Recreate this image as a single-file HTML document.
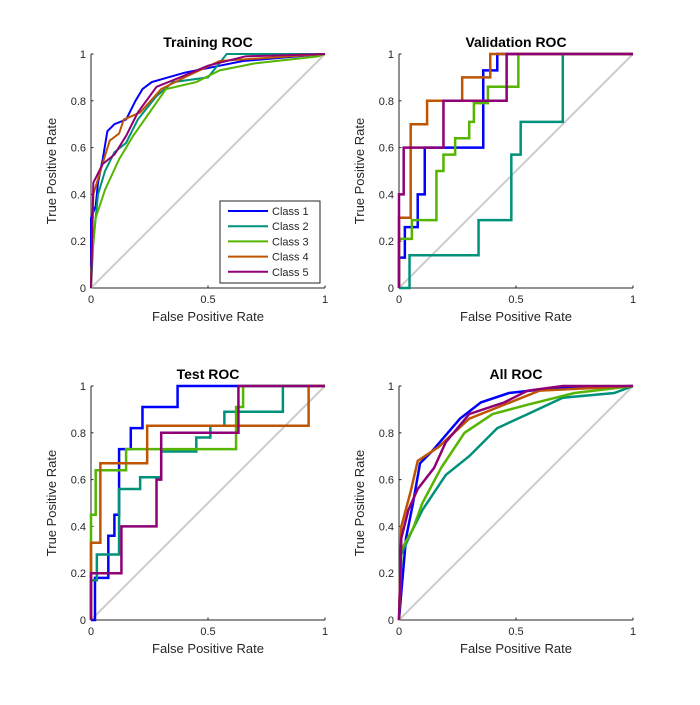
<!DOCTYPE html>
<html><head><meta charset="utf-8"><style>
body{margin:0;background:#fff;}
svg text{font-family:"Liberation Sans",sans-serif;fill:#262626;}
</style></head><body>
<svg id="c" width="700" height="700"></svg>
<script>
const classNames=["Class 1","Class 2","Class 3","Class 4","Class 5"];
const colors=["#0000ff","#00917a","#55b500","#bf5500","#8f0077"];
const xTicks=[0,0.5,1];
const xTickLabels=["0","0.5","1"];
const yTicks=[0,0.2,0.4,0.6,0.8,1];
const yTickLabels=["0","0.2","0.4","0.6","0.8","1"];
// Training
const trainFpr=[[0,0.02,0.03,0.05,0.07,0.1,0.15,0.19,0.22,0.26,0.4,0.55,0.65,1],[0.01,0.03,0.06,0.1,0.15,0.2,0.28,0.35,0.5,0.58,1],[0,0.02,0.06,0.12,0.18,0.25,0.32,0.45,0.55,0.7,0.97,1],[0.01,0.04,0.08,0.12,0.14,0.21,0.3,0.4,0.55,1],[0.01,0.05,0.1,0.15,0.2,0.28,0.38,0.5,0.66,1]];
const trainTpr=[[0.3,0.35,0.45,0.55,0.67,0.7,0.72,0.8,0.85,0.88,0.92,0.95,0.97,1],[0.2,0.4,0.5,0.58,0.62,0.72,0.82,0.88,0.9,1,1],[0.08,0.3,0.42,0.55,0.65,0.75,0.85,0.88,0.93,0.96,0.99,1],[0.4,0.5,0.63,0.66,0.72,0.75,0.85,0.9,0.97,1],[0.45,0.53,0.57,0.65,0.75,0.86,0.9,0.95,0.99,1]];
// Validation
const valFpr=[[0,0.025,0.08,0.11,0.36,0.42,1],[0.045,0.34,0.48,0.52,0.70,1],[0,0.055,0.16,0.19,0.24,0.30,0.32,0.38,0.51,1],[0,0.05,0.12,0.27,0.39,1],[0,0.02,0.19,0.46,1]];
const valTpr=[[0.13,0.26,0.4,0.6,0.93,1,1],[0.14,0.29,0.57,0.71,1,1],[0.21,0.29,0.5,0.57,0.64,0.71,0.79,0.86,1,1],[0.3,0.7,0.8,0.9,1,1],[0.4,0.6,0.8,1,1]];
// Test
const testFpr=[[0.017,0.074,0.1,0.12,0.17,0.22,0.37,1],[0,0.025,0.12,0.21,0.3,0.45,0.51,0.57,0.82,1],[0,0.02,0.15,0.62,0.65,1],[0,0.04,0.24,0.93,1],[0,0.13,0.28,0.3,0.63,1]];
const testTpr=[[0.18,0.36,0.45,0.73,0.82,0.91,1,1],[0.17,0.28,0.56,0.61,0.72,0.78,0.83,0.89,1,1],[0.45,0.64,0.73,0.91,1,1],[0.33,0.67,0.83,1,1],[0.2,0.4,0.6,0.8,1,1]];
// All
const allFpr=[[0.01,0.03,0.06,0.09,0.14,0.2,0.26,0.35,0.47,0.65,1],[0.01,0.05,0.1,0.2,0.3,0.42,0.55,0.7,0.92,1],[0.01,0.06,0.1,0.18,0.28,0.4,0.55,0.75,1],[0.01,0.05,0.08,0.17,0.3,0.4,0.6,1],[0.01,0.04,0.08,0.15,0.2,0.3,0.45,0.55,0.7,1]];
const allTpr=[[0.12,0.35,0.5,0.67,0.72,0.79,0.86,0.93,0.97,0.99,1],[0.28,0.37,0.47,0.62,0.7,0.82,0.88,0.95,0.97,1],[0.3,0.39,0.5,0.65,0.8,0.88,0.92,0.97,1],[0.4,0.55,0.68,0.74,0.86,0.9,0.98,1],[0.35,0.47,0.56,0.65,0.76,0.88,0.93,0.98,1,1]];

const NS="http://www.w3.org/2000/svg";
const svg=document.getElementById('c');
function mk(tag,attrs,parent){const e=document.createElementNS(NS,tag);for(const k in attrs)e.setAttribute(k,attrs[k]);(parent||svg).appendChild(e);return e;}
const panels=[
 {title:"Training ROC",x0:91,y0:54,fpr:trainFpr,tpr:trainTpr,lw:2,legend:true,key:"training",step:false},
 {title:"Validation ROC",x0:399,y0:54,fpr:valFpr,tpr:valTpr,lw:2.5,key:"validation",step:true},
 {title:"Test ROC",x0:91,y0:386,fpr:testFpr,tpr:testTpr,lw:2.5,key:"test",step:true},
 {title:"All ROC",x0:399,y0:386,fpr:allFpr,tpr:allTpr,lw:2.5,key:"all",step:false}];
const W=234,H=234;
panels.forEach(p=>{
 const g=mk('g',{});
 
 
 const sx=v=>p.x0+v*W, sy=v=>p.y0+H-v*H;
 const ax=mk('path',{d:`M${p.x0},${p.y0}V${p.y0+H}H${p.x0+W}`,stroke:'#262626','stroke-width':1,fill:'none'},g);
 
 
 xTicks.forEach((t,i)=>{
  mk('line',{x1:sx(t),x2:sx(t),y1:p.y0+H,y2:p.y0+H-2.5,stroke:'#262626'},g);
  const tx=mk('text',{x:sx(t),y:p.y0+H+15,'font-size':11,'text-anchor':'middle'},g);
  tx.textContent=xTickLabels[i];
  
  
 });
 yTicks.forEach((t,i)=>{
  mk('line',{x1:p.x0,x2:p.x0+2.5,y1:sy(t),y2:sy(t),stroke:'#262626'},g);
  const tx=mk('text',{x:p.x0-5,y:sy(t)+4,'font-size':11,'text-anchor':'end'},g);
  tx.textContent=yTickLabels[i];
  
  
 });
 const ti=mk('text',{x:p.x0+W/2,y:p.y0-7,'font-size':14,'font-weight':'bold','text-anchor':'middle',style:'fill:#000'},g);
 ti.textContent=p.title;
 
 
 const xl=mk('text',{x:p.x0+W/2,y:p.y0+H+33,'font-size':13,'text-anchor':'middle'},g);
 xl.textContent="False Positive Rate";
 
 
 const yl=mk('text',{x:0,y:0,'font-size':13,'text-anchor':'middle',transform:`translate(${p.x0-35},${p.y0+H/2}) rotate(-90)`},g);
 yl.textContent="True Positive Rate";
 
 
 const dg=mk('line',{x1:sx(0),y1:sy(0),x2:sx(1),y2:sy(1),stroke:'#cccccc','stroke-width':2},g);
 
 
 p.fpr.forEach((fs,ci)=>{
  let d=`M${sx(0)},${sy(0)}`;let py=0;
  fs.forEach((f,j)=>{
   if(p.step) d+=`L${sx(f)},${sy(py)}`;
   d+=`L${sx(f)},${sy(p.tpr[ci][j])}`;py=p.tpr[ci][j];});
  const pl=mk('path',{d:d,stroke:colors[ci],'stroke-width':p.lw,fill:'none','stroke-linejoin':'miter'},g);
  
  
 });
 if(p.legend){
  const lg=mk('g',{},g);
  
  
  mk('rect',{x:220,y:201,width:100,height:82,fill:'#fff',stroke:'#262626','stroke-width':1},lg);
  classNames.forEach((n,i)=>{
   const y=211+i*15.2;
   const e=mk('g',{},lg);
   
   
   mk('line',{x1:228,x2:268,y1:y,y2:y,stroke:colors[i],'stroke-width':2},e);
   const t=mk('text',{x:272,y:y+4,'font-size':11},e);
   t.textContent=n;
  });
 }
});
</script>
</body></html>
